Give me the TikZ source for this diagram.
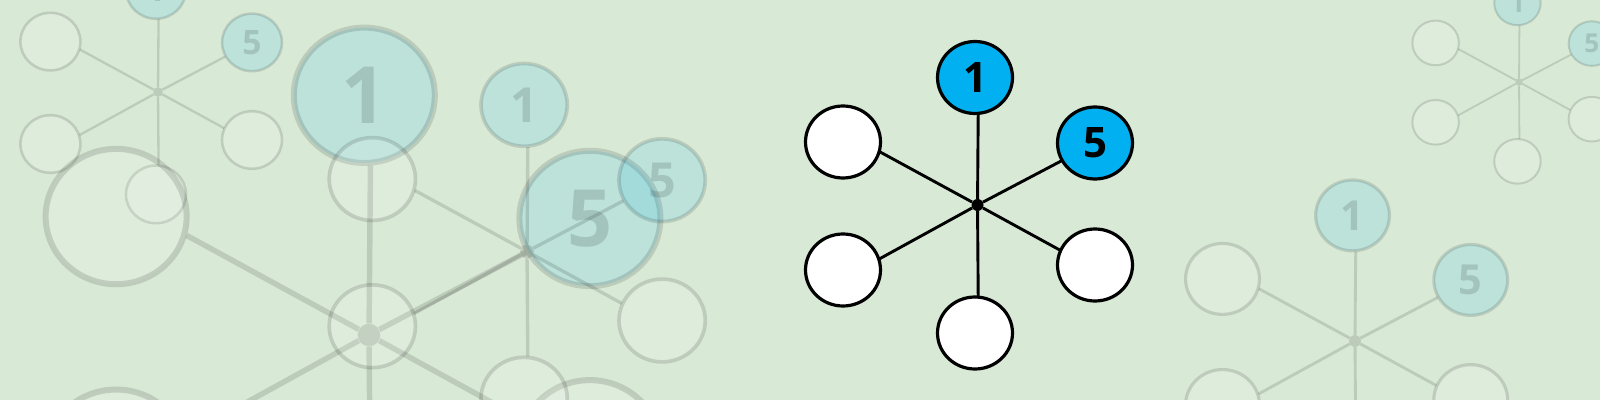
\documentclass[tikz,border=0pt]{standalone}
\usepackage{fontspec}
\setmainfont{Open Sans}
\usetikzlibrary{positioning, shapes.geometric}
\definecolor{bggreen}{HTML}{D8EAD6}
\definecolor{leafblue}{HTML}{00B0F0}
\tikzset{leaf/.style={ellipse, draw=black, fill=white, inner sep=0pt, minimum width=75pt, minimum height=72pt, font=\fontsize{42}{42}\selectfont\bfseries}}
\tikzset{hubdot/.style={circle, fill=black, inner sep=0pt, minimum size=12pt}}
\tikzset{spoke/.style={draw=black}}
\tikzset{faded/.style={opacity=0.13}}

% one star: [scope options] {name} {hub x} {hub y} {scale}
\newcommand{\drawstar}[5][]{%
  \pgfmathsetmacro{\starlw}{#5*1.45}%
  \pgfmathsetmacro{\starbw}{#5*1.6}%
  \begin{scope}[#1]
  \begin{scope}[shift={(#3,#4)}, scale=#5, every node/.append style={transform shape}]
    \node[hubdot] (#2-hub) at (0,0) {};
    \node[leaf, fill=leafblue, line width=\starbw pt] (#2-top) at (-2.5,-127.5) {1};
    \node[leaf, fill=leafblue, line width=\starbw pt] (#2-ur) at (117.5,-62) {5};
    \node[leaf, line width=\starbw pt] (#2-lr) at (117.5,60) {};
    \node[leaf, line width=\starbw pt] (#2-bot) at (-2.5,128) {};
    \node[leaf, line width=\starbw pt] (#2-ll) at (-134.5,65) {};
    \node[leaf, line width=\starbw pt] (#2-ul) at (-134.5,-63) {};
    \foreach \leafname/\leafend in {top/-85,ur/208,lr/157,bot/85,ll/17,ul/-15}
      \draw[spoke, line width=\starlw pt] (#2-hub) -- (#2-\leafname.\leafend);
  \end{scope}
  \end{scope}}

\begin{document}
\begin{tikzpicture}[x=1pt, y=-1pt, scale=0.5]
  \useasboundingbox (0,0) rectangle (1600,400);
  \fill[bggreen] (0,0) rectangle (1600,400);
  \clip (0,0) rectangle (1600,400);
  % faded copies
  \drawstar[faded]{sa}{158}{92}{0.8}
  \drawstar[faded]{sb}{369}{335}{1.88}
  \drawstar[faded]{sc}{527}{251.5}{1.15}
  \drawstar[faded]{sd}{1519}{82}{0.62}
  \drawstar[faded]{se}{1355}{341}{0.985}
  % main star
  \drawstar{main}{977.5}{205}{1}
\end{tikzpicture}
\end{document}
